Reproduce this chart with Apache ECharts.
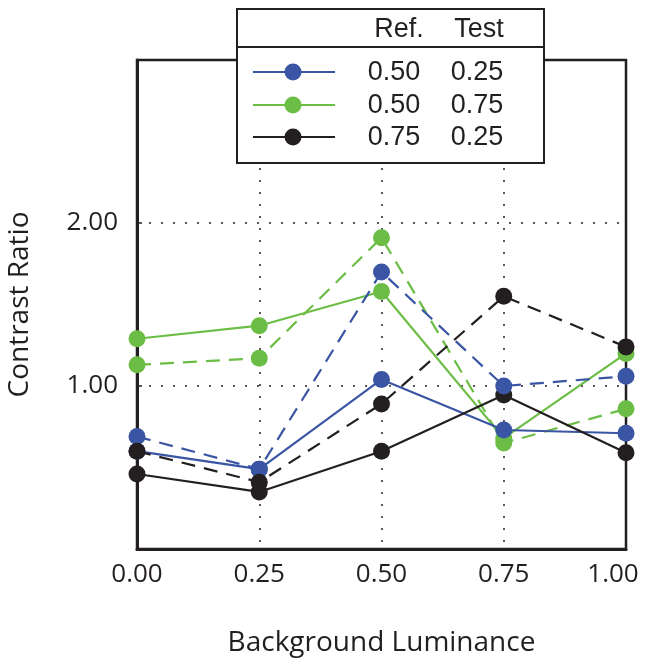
<!DOCTYPE html>
<html>
<head>
<meta charset="utf-8">
<script src="https://cdn.jsdelivr.net/npm/echarts@6/dist/echarts.min.js"></script>
<style>
  html, body { margin: 0; padding: 0; background: #fff; }
  #chart { width: 648px; height: 660px; }
</style>
</head>
<body>
<div id="chart"></div>
<script>
// background luminance (x) values
const luminance = [0, 0.25, 0.5, 0.75, 1];
const xTicks = ['0.00', '0.25', '0.50', '0.75', '1.00'];

// contrast ratio per condition, solid and dashed curves
const blueSolid   = [0.60, 0.49, 1.04, 0.73, 0.71];
const blueDashed  = [0.69, 0.49, 1.70, 1.00, 1.06];
const greenSolid  = [1.29, 1.37, 1.58, 0.68, 1.20];
const greenDashed = [1.13, 1.17, 1.91, 0.65, 0.86];
const blackSolid  = [0.46, 0.35, 0.60, 0.945, 0.59];
const blackDashed = [0.60, 0.41, 0.89, 1.55, 1.24];

// legend table
const legendHeader = ['Ref.', 'Test'];
const legendRef  = ['0.50', '0.50', '0.75'];
const legendTest = ['0.25', '0.75', '0.25'];

const BLUE = '#3a55a4', GREEN = '#6cbd45', BLACK = '#231f20';
const axisFont = '"Open Sans", "Noto Sans", sans-serif';
const legFont = '"Liberation Sans", Arial, sans-serif';

function pairs(ys) {
    return ys.map((y, i) => [luminance[i], y]);
}

function makeSeries(name, ys, color, dashed, z) {
    return {
        name: name,
        type: 'line',
        data: pairs(ys),
        symbol: 'circle',
        symbolSize: 17,
        z: z,
        itemStyle: { color: color },
        lineStyle: { color: color, width: 2.2, type: dashed ? [14, 9] : 'solid' },
        emphasis: { disabled: true },
        animation: false
    };
}

let myChart = echarts.init(document.getElementById('chart'));

// legend box drawn as a small table
let legendEls = [
    { type: 'rect', shape: { x: 237, y: 9, width: 307, height: 154 },
      style: { fill: '#fff', stroke: BLACK, lineWidth: 2 }, z: 100 },
    { type: 'line', shape: { x1: 237, y1: 47, x2: 544, y2: 47 },
      style: { stroke: BLACK, lineWidth: 2 }, z: 101 },
    { type: 'text', x: 399, y: 30, z: 101,
      style: { text: legendHeader[0], font: '27px ' + legFont, fill: BLACK, align: 'center', verticalAlign: 'middle' } },
    { type: 'text', x: 479, y: 30, z: 101,
      style: { text: legendHeader[1], font: '27px ' + legFont, fill: BLACK, align: 'center', verticalAlign: 'middle' } }
];
const rowY = [72, 105, 137];
const rowColor = [BLUE, GREEN, BLACK];
rowY.forEach((y, i) => {
    legendEls.push({ type: 'line', shape: { x1: 253, y1: y, x2: 335, y2: y },
        style: { stroke: rowColor[i], lineWidth: 2 }, z: 101 });
    legendEls.push({ type: 'circle', shape: { cx: 293, cy: y, r: 8.5 },
        style: { fill: rowColor[i] }, z: 102 });
    legendEls.push({ type: 'text', x: 394, y: y + 1, z: 101,
        style: { text: legendRef[i], font: '27px ' + legFont, fill: BLACK, align: 'center', verticalAlign: 'middle' } });
    legendEls.push({ type: 'text', x: 477, y: y + 1, z: 101,
        style: { text: legendTest[i], font: '27px ' + legFont, fill: BLACK, align: 'center', verticalAlign: 'middle' } });
});

let option = {
    animation: false,
    grid: {
        left: 137, right: 22, top: 60, bottom: 111,
        containLabel: false,
        outerBoundsMode: 'none',
        show: true, borderColor: BLACK, borderWidth: 2.5, backgroundColor: 'transparent'
    },
    xAxis: {
        type: 'value',
        min: 0, max: 1, interval: 0.25,
        name: 'Background Luminance',
        nameLocation: 'middle',
        nameGap: 80,
        nameTextStyle: { fontSize: 28, fontFamily: axisFont, color: BLACK },
        axisLine: { show: true, lineStyle: { color: BLACK, width: 3 } },
        axisTick: { show: false },
        axisLabel: {
            fontSize: 26, fontFamily: axisFont, color: BLACK, margin: 13,
            // last label is pulled left so it stays inside the page
            formatter: v => {
                let s = xTicks[luminance.indexOf(v)];
                return v === 1 ? '{last|' + s + '}' : s;
            },
            rich: {
                last: { fontSize: 26, fontFamily: axisFont, color: BLACK, padding: [0, 26, 0, 0] }
            }
        },
        splitLine: { show: true, lineStyle: { color: BLACK, width: 1.5, type: [2, 10] } }
    },
    yAxis: {
        type: 'value',
        min: 0, max: 3, interval: 1,
        name: 'Contrast Ratio',
        nameLocation: 'middle',
        nameGap: 103,
        nameTextStyle: { fontSize: 28, fontFamily: axisFont, color: BLACK },
        axisLine: { show: true, lineStyle: { color: BLACK, width: 3 } },
        axisTick: { show: true, inside: true, length: 5, lineStyle: { color: BLACK, width: 1.5 } },
        axisLabel: {
            fontSize: 26, fontFamily: axisFont, color: BLACK, margin: 19,
            formatter: v => (v === 1 || v === 2) ? v.toFixed(2) : ''
        },
        splitLine: { show: true, lineStyle: { color: BLACK, width: 1.5, type: [2, 10] } }
    },
    graphic: legendEls,
    series: [
        makeSeries('green solid', greenSolid, GREEN, false, 2),
        makeSeries('green dashed', greenDashed, GREEN, true, 2),
        makeSeries('blue solid', blueSolid, BLUE, false, 3),
        makeSeries('blue dashed', blueDashed, BLUE, true, 4),
        makeSeries('black solid', blackSolid, BLACK, false, 3),
        makeSeries('black dashed', blackDashed, BLACK, true, 5)
    ]
};
myChart.setOption(option);
</script>
</body>
</html>
